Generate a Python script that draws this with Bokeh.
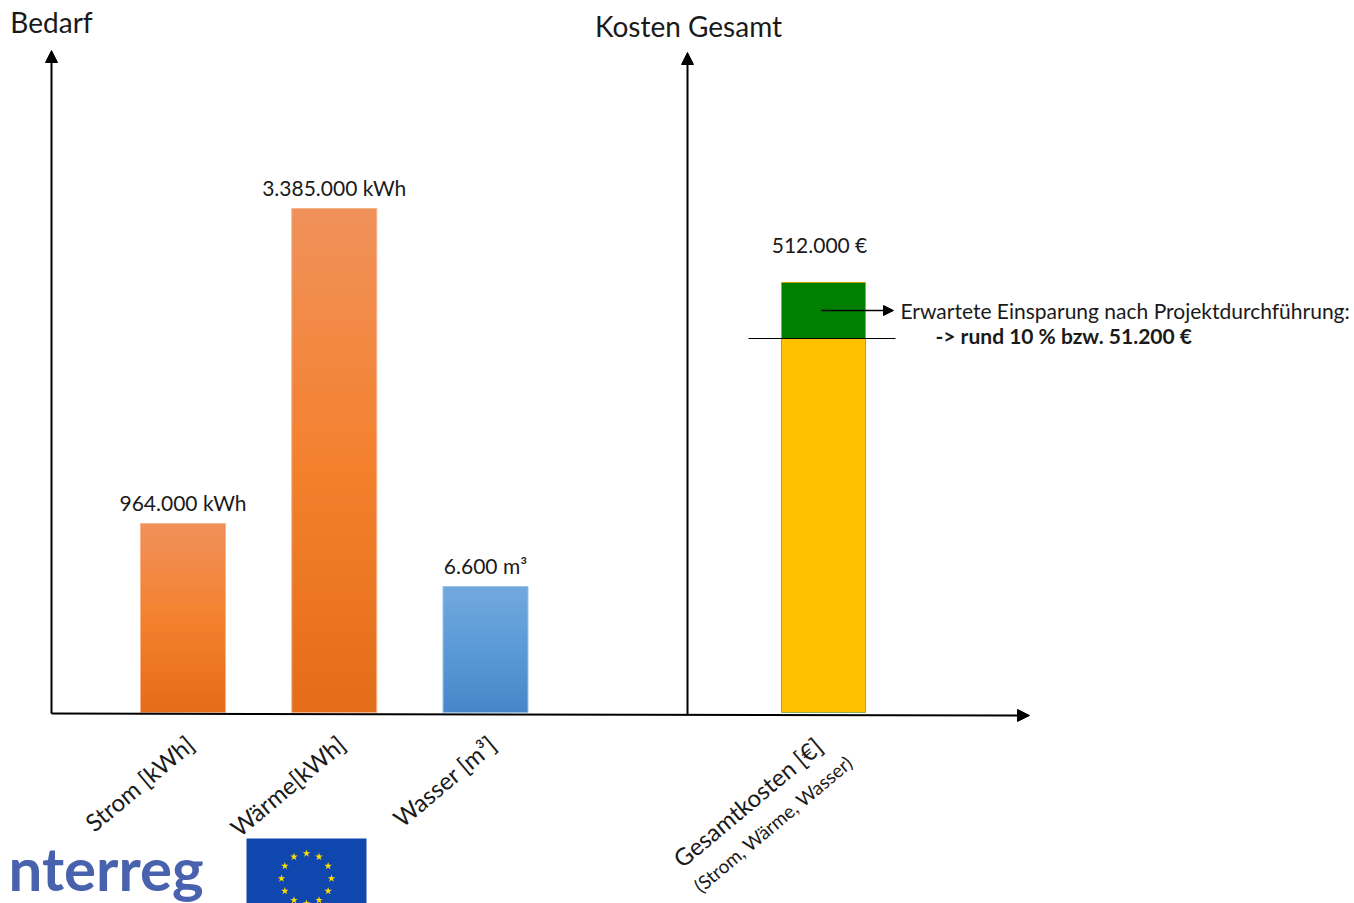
import math
from bokeh.plotting import figure
from bokeh.models import Range1d, Arrow, NormalHead, ColumnDataSource
from bokeh.core.properties import value
from bokeh.embed import file_html
from bokeh.resources import INLINE

# ---------------- data ----------------
categories = ["Strom [kWh]", "Wärme[kWh]", "Wasser [m³]"]
value_labels = ["964.000 kWh", "3.385.000 kWh", "6.600 m³"]
bar_heights = [189, 504, 126]          # drawn heights as in the reference (not to scale)
bar_top_colors = ["#F0915A", "#F0915A", "#72A8DE"]
bar_mid_colors = ["#F4812F", "#F4812F", "#5A9AD6"]
bar_bottom_colors = ["#E46C1A", "#E46C1A", "#4787C9"]
bar_edge_colors = ["#F6B48A", "#F6B48A", "#9CC2E8"]

cost_category = "Gesamtkosten [€]"
cost_subcategory = "(Strom, Wärme, Wasser)"
cost_label = "512.000 €"
cost_height = 430
savings_height = 56
savings_text = "Erwartete Einsparung nach Projektdurchführung:"
savings_value_text = "-> rund 10 % bzw. 51.200 €"

titles = ["Bedarf", "Kosten Gesamt"]

FONT = value("Lato")

# ---------------- helpers ----------------
def hex2rgb(h):
    h = h.lstrip("#")
    return [int(h[i:i + 2], 16) for i in (0, 2, 4)]

def blend(c1, c2, t):
    a, b = hex2rgb(c1), hex2rgb(c2)
    return "#%02x%02x%02x" % tuple(round(a[i] + (b[i] - a[i]) * t) for i in range(3))

p = figure(width=1354, height=903, x_range=Range1d(0, 1354), y_range=Range1d(-191, 712),
           output_backend="svg", toolbar_location=None, min_border=0,
           x_axis_location=None, y_axis_location=None)
p.grid.visible = False
p.outline_line_color = None

# ---------------- left panel bars ----------------
x0, step, width = 182.5, 151.25, 85
centers = [x0 + step * i for i in range(len(categories))]
N = 40
sl = dict(left=[], right=[], bottom=[], top=[], color=[])
for c, h, ct, cm, cb in zip(centers, bar_heights, bar_top_colors, bar_mid_colors, bar_bottom_colors):
    for k in range(N):
        b = h * k / N
        t = h * (k + 1) / N
        f = (k + 0.5) / N  # 0 bottom .. 1 top
        col = blend(cb, cm, f * 2) if f < 0.5 else blend(cm, ct, (f - 0.5) * 2)
        sl["left"].append(c - width / 2)
        sl["right"].append(c + width / 2)
        sl["bottom"].append(b)
        sl["top"].append(min(t + 1.5, h))
        sl["color"].append(col)
p.quad(source=ColumnDataSource(sl), left="left", right="right", bottom="bottom", top="top",
       fill_color="color", line_color=None)
p.quad(left=[c - width / 2 for c in centers], right=[c + width / 2 for c in centers],
       bottom=[0] * 3, top=bar_heights, fill_color=None, line_color=bar_edge_colors, line_width=1)

p.text(x=centers, y=[h + 21 for h in bar_heights], text=value_labels, text_font=FONT,
       text_font_size="21px", text_align="center", text_baseline="middle", text_color="#1a1a1a")

p.text(x=[c + 7 for c in centers], y=[-28] * 3, text=categories, angle=40, angle_units="deg",
       text_font=FONT, text_font_size="24px", text_align="right", text_baseline="middle",
       text_color="#1a1a1a")

# ---------------- right panel bar ----------------
cc, cw = 823, 84
p.quad(left=[cc - cw / 2], right=[cc + cw / 2], bottom=[0], top=[cost_height - savings_height],
       fill_color="#FFC000", line_color="#8DB04A", line_width=1)
p.quad(left=[cc - cw / 2], right=[cc + cw / 2], bottom=[cost_height - savings_height],
       top=[cost_height], fill_color="#007F00", line_color="#C9A400", line_width=1)
p.text(x=[cc - 4], y=[cost_height + 38], text=[cost_label], text_font=FONT,
       text_font_size="21px", text_align="center", text_baseline="middle", text_color="#1a1a1a")

p.text(x=[cc - 5, cc + 26], y=[-30, -47], text=[cost_category, cost_subcategory], angle=40,
       angle_units="deg", text_font=FONT, text_font_size=["24px", "19px"], text_align="right",
       text_baseline="middle", text_color="#1a1a1a")

# savings annotation
p.add_layout(Arrow(x_start=cc - 2, y_start=cost_height - savings_height / 2,
                   x_end=893, y_end=cost_height - savings_height / 2,
                   line_width=1.5, line_color="black",
                   end=NormalHead(size=10, fill_color="black", line_color="black")))
p.segment(x0=[748], y0=[cost_height - savings_height], x1=[895], y1=[cost_height - savings_height],
          line_color="black", line_width=1.2)
p.text(x=[900], y=[cost_height - savings_height / 2], text=[savings_text], text_font=FONT,
       text_font_size="21px", text_align="left", text_baseline="middle", text_color="#1a1a1a")
p.text(x=[935], y=[cost_height - savings_height + 3], text=[savings_value_text], text_font=FONT,
       text_font_size="21px", text_font_style="bold", text_align="left", text_baseline="middle",
       text_color="#1a1a1a")

# ---------------- axes (arrows) ----------------
head = dict(size=12, fill_color="black", line_color="black")
p.add_layout(Arrow(x_start=51, y_start=-1, x_end=51, y_end=662, line_width=2,
                   end=NormalHead(**head)))
p.add_layout(Arrow(x_start=687, y_start=-3, x_end=687, y_end=660, line_width=2,
                   end=NormalHead(**head)))
p.add_layout(Arrow(x_start=51, y_start=-1, x_end=1029, y_end=-3, line_width=2,
                   end=NormalHead(**head)))

p.text(x=[51, 688], y=[691, 687], text=titles, text_font=FONT, text_font_size="28px",
       text_align="center", text_baseline="middle", text_color="#1a1a1a")

# ---------------- logos (decorative) ----------------
p.text(x=[8], y=[-155], text=["nterreg"], text_font=FONT, text_font_size="60px",
       text_font_style="bold", text_align="left", text_baseline="alphabetic", text_color="#4962AE")
p.quad(left=[246], right=[366], bottom=[-191], top=[-126], fill_color="#0F47AF", line_color=None)
sx = [306 + 25 * math.cos(2 * math.pi * k / 12) for k in range(12)]
sy = [-166 + 25 * math.sin(2 * math.pi * k / 12) for k in range(12)]
p.scatter(x=sx, y=sy, marker="star", size=8, fill_color="#FFDD00", line_color=None)

open("out.html", "w").write(file_html(p, INLINE))
